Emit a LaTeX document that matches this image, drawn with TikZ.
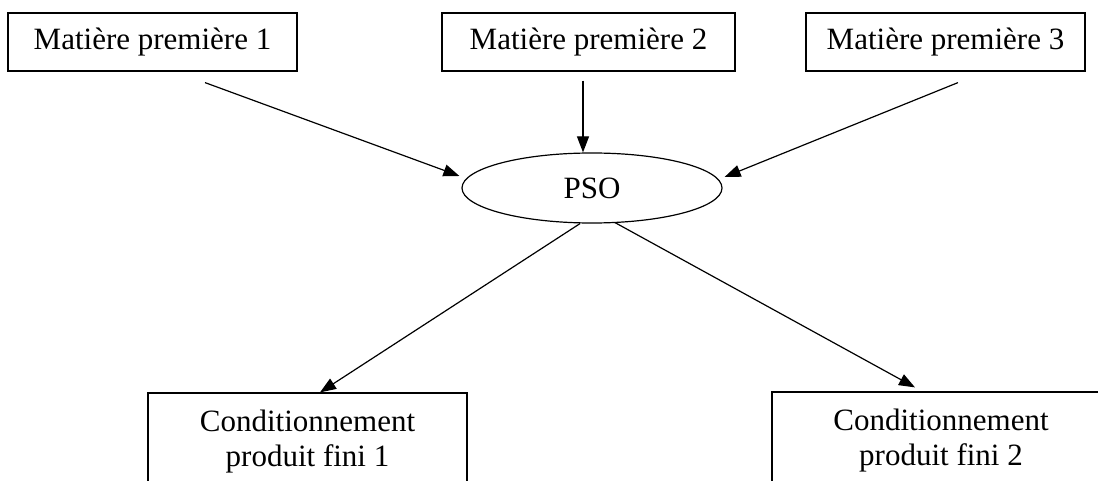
\documentclass[tikz,border=0pt]{standalone}
\usepackage{fontspec}
\setmainfont{Liberation Serif}
\usetikzlibrary{shapes.geometric,arrows.meta,calc}
\begin{document}
\begin{tikzpicture}[x=1pt,y=-1pt,
  every node/.style={font=\fontsize{31}{35}\selectfont, inner sep=0pt},
  topbox/.style={draw, line width=1.2pt, minimum height=58pt, align=center},
  botbox/.style={draw, line width=1.2pt, minimum height=98pt, align=center},
  oval/.style={draw, ellipse, line width=1.2pt, minimum width=260pt, minimum height=70pt},
  arr/.style={line width=1.2pt, -{Triangle[length=16pt,width=12pt]}}]
\useasboundingbox (0,0) rectangle (1098,481);
\fill[white] (0,0) rectangle (1098,481);
\clip (0,0) rectangle (1098,481);
\node[topbox, minimum width=289pt] (m1) at (152.5,42) {Matière première 1};
\node[topbox, minimum width=293pt] (m2) at (588.5,42) {Matière première 2};
\node[topbox, minimum width=279pt] (m3) at (945.5,42) {Matière première 3};
\node[oval] (pso) at (592,188) {PSO};
\node[botbox, minimum width=319pt] (c1) at (307.5,442) {Conditionnement\\produit fini 1};
\node[botbox, minimum width=338pt] (c2) at (941,441) {Conditionnement\\produit fini 2};
\draw[arr] ($(m1.south)+(52.5,11)$) -- ($(pso.west)+(-2,-12)$);
\draw[arr] ($(m2.south)+(-5.5,9)$) coordinate (s2) -- (s2 |- pso.north);
\draw[arr] ($(m3.south)+(12.5,11)$) -- ($(pso.east)+(2,-11)$);
\draw[arr] ($(pso.south)+(-12,0)$) -- ($(c1.north)+(12.5,0)$);
\draw[arr] ($(pso.south)+(23,-1)$) -- ($(c2.north)+(-26,-4)$);
\end{tikzpicture}
\end{document}
